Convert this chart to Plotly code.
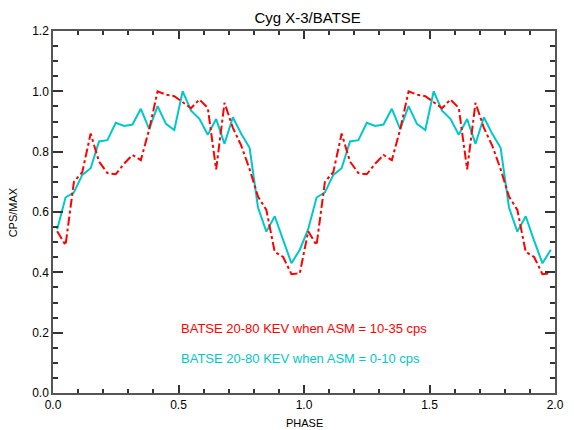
import plotly.graph_objects as go

# One orbital cycle, 30 phase bins (the plot shows two cycles)
phase_bins = [0.0167, 0.0500, 0.0833, 0.1167, 0.1500, 0.1833, 0.2167, 0.2500, 0.2833, 0.3167,
              0.3500, 0.3833, 0.4167, 0.4500, 0.4833, 0.5167, 0.5500, 0.5833, 0.6167, 0.6500,
              0.6833, 0.7167, 0.7500, 0.7833, 0.8167, 0.8500, 0.8833, 0.9167, 0.9500, 0.9833]

cyan_low = [0.543, 0.648, 0.665, 0.723, 0.745, 0.834, 0.838, 0.896, 0.885, 0.890,
            0.942, 0.875, 0.951, 0.892, 0.872, 1.000, 0.936, 0.909, 0.856, 0.908,
            0.826, 0.914, 0.859, 0.813, 0.615, 0.535, 0.586, 0.505, 0.430, 0.475]

red_high = [0.536, 0.490, 0.700, 0.732, 0.860, 0.767, 0.729, 0.725, 0.760, 0.789,
            0.772, 0.874, 1.000, 0.989, 0.984, 0.964, 0.944, 0.973, 0.945, 0.741,
            0.962, 0.879, 0.820, 0.742, 0.651, 0.607, 0.468, 0.451, 0.394, 0.397]

x_ticks = [0.0, 0.5, 1.0, 1.5, 2.0]
y_ticks = [0.0, 0.2, 0.4, 0.6, 0.8, 1.0, 1.2]

title_text = "Cyg X-3/BATSE"
label_red = "BATSE 20-80 KEV when ASM = 10-35 cps"
label_cyan = "BATSE 20-80 KEV when ASM = 0-10 cps"

x2 = phase_bins + [p + 1.0 for p in phase_bins]
cyan2 = cyan_low + cyan_low
red2 = red_high + red_high

RED = "rgb(255,0,0)"
CYAN = "rgb(0,200,200)"
FONT = "Liberation Sans"

fig = go.Figure()
fig.add_trace(go.Scatter(x=x2, y=cyan2, mode="lines",
                         line=dict(color=CYAN, width=2), showlegend=False))
fig.add_trace(go.Scatter(x=x2, y=red2, mode="lines",
                         line=dict(color=RED, width=2, dash="dashdot"), showlegend=False))

axis_common = dict(showline=True, linecolor="#555555", linewidth=1.5, mirror="ticks",
                   ticks="inside", tickcolor="#333333", showgrid=False, zeroline=False,
                   tickfont=dict(family=FONT, size=12, color="black"))

fig.update_xaxes(range=[0, 2], tickvals=x_ticks, ticktext=[f"{v:.1f}" for v in x_ticks],
                 ticklen=8, tickwidth=1.5,
                 minor=dict(dtick=0.1, ticks="inside", ticklen=4, tickcolor="#333333"),
                 **axis_common)
fig.update_yaxes(range=[0, 1.2], tickvals=y_ticks, ticktext=[f"{v:.1f}" for v in y_ticks],
                 ticklen=10, tickwidth=1.5,
                 minor=dict(dtick=0.05, ticks="inside", ticklen=5, tickcolor="#333333"),
                 **axis_common)

fig.update_layout(
    width=574, height=430,
    margin=dict(l=53, r=10, t=31, b=37),
    paper_bgcolor="white", plot_bgcolor="white",
    title=dict(text=title_text, x=0.536, xanchor="center", y=0.958, yanchor="middle",
               font=dict(family=FONT, size=15, color="black")),
    annotations=[
        dict(text=label_red, xref="paper", yref="paper", x=0.25, y=0.177,
             xanchor="left", yanchor="middle", showarrow=False,
             font=dict(family=FONT, size=13, color=RED)),
        dict(text=label_cyan, xref="paper", yref="paper", x=0.25, y=0.096,
             xanchor="left", yanchor="middle", showarrow=False,
             font=dict(family=FONT, size=13, color=CYAN)),
        dict(text="PHASE", xref="paper", yref="paper", x=0.5, y=-0.084,
             xanchor="center", yanchor="middle", showarrow=False,
             font=dict(family=FONT, size=11, color="black")),
        dict(text="CPS/MAX", xref="paper", yref="paper", x=-0.079, y=0.5,
             xanchor="center", yanchor="middle", showarrow=False, textangle=-90,
             font=dict(family=FONT, size=11, color="black")),
    ],
)

fig.write_html("out.html", config={"displayModeBar": False},
               post_script="document.body.style.margin='0';document.body.style.overflow='hidden';")
